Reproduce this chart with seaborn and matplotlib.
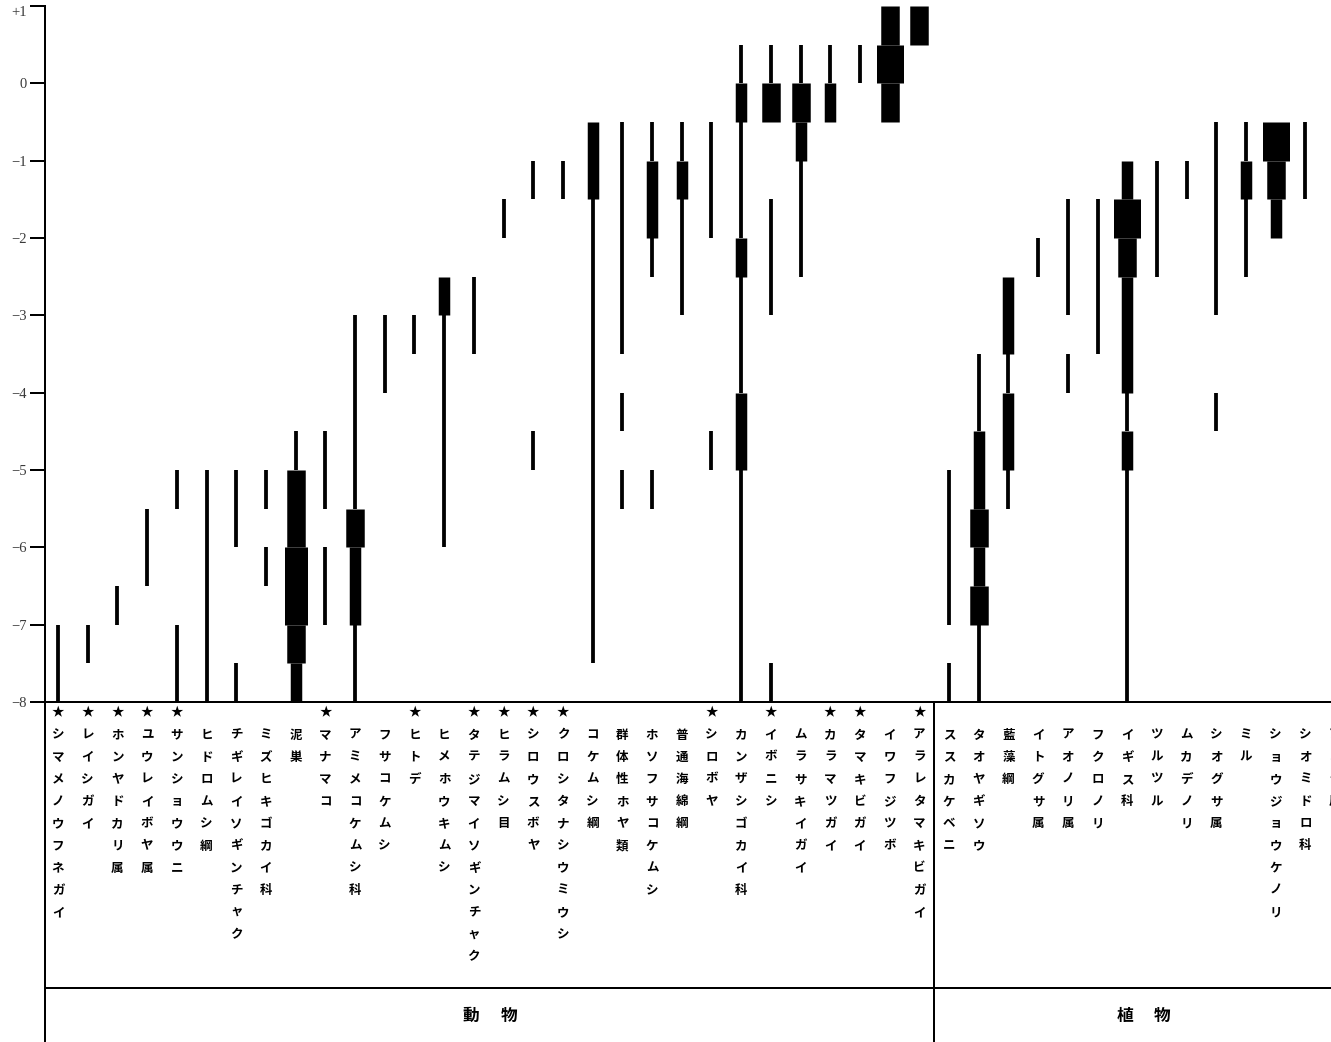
import matplotlib
matplotlib.use("Agg")
import matplotlib.pyplot as plt
import matplotlib.transforms as mtransforms
from matplotlib.lines import Line2D
import pandas as pd
import seaborn as sns
import seaborn.objects as so

# ---------------------------------------------------------------- data
# Each zone entry: (upper level, lower level, abundance class 1-5)
animal_names = [
    "シマメノウフネガイ", "レイシガイ", "ホンヤドカリ属", "ユウレイボヤ属", "サンショウウニ",
    "ヒドロムシ綱", "チギレイソギンチャク", "ミズヒキゴカイ科", "泥巣", "マナマコ",
    "アミメコケムシ科", "フサコケムシ", "ヒトデ", "ヒメホウキムシ", "タテジマイソギンチャク",
    "ヒラムシ目", "シロウスボヤ", "クロシタナシウミウシ", "コケムシ綱", "群体性ホヤ類",
    "ホソフサコケムシ", "普通海綿綱", "シロボヤ", "カンザシゴカイ科", "イボニシ",
    "ムラサキイガイ", "カラマツガイ", "タマキビガイ", "イワフジツボ", "アラレタマキビガイ",
]
animal_starred = [1, 1, 1, 1, 1, 0, 0, 0, 0, 1,
                  0, 0, 1, 0, 1, 1, 1, 1, 0, 0,
                  0, 0, 1, 0, 1, 0, 1, 1, 0, 1]
animal_zones = [
    [(-7, -8, 1)],
    [(-7, -7.5, 1)],
    [(-6.5, -7, 1)],
    [(-5.5, -6.5, 1)],
    [(-5, -5.5, 1), (-7, -8, 1)],
    [(-5, -8, 1)],
    [(-5, -6, 1), (-7.5, -8, 1)],
    [(-5, -5.5, 1), (-6, -6.5, 1)],
    [(-4.5, -5, 1), (-5, -6, 3), (-6, -7, 4), (-7, -7.5, 3), (-7.5, -8, 2)],
    [(-4.5, -5.5, 1), (-6, -7, 1)],
    [(-3, -5.5, 1), (-5.5, -6, 3), (-6, -7, 2), (-7, -8, 1)],
    [(-3, -4, 1)],
    [(-3, -3.5, 1)],
    [(-2.5, -3, 2), (-3, -6, 1)],
    [(-2.5, -3.5, 1)],
    [(-1.5, -2, 1)],
    [(-1, -1.5, 1), (-4.5, -5, 1)],
    [(-1, -1.5, 1)],
    [(-0.5, -1.5, 2), (-1.5, -7.5, 1)],
    [(-0.5, -3.5, 1), (-4, -4.5, 1), (-5, -5.5, 1)],
    [(-0.5, -1, 1), (-1, -2, 2), (-2, -2.5, 1), (-5, -5.5, 1)],
    [(-0.5, -1, 1), (-1, -1.5, 2), (-1.5, -3, 1)],
    [(-0.5, -2, 1), (-4.5, -5, 1)],
    [(0.5, 0, 1), (0, -0.5, 2), (-0.5, -2, 1), (-2, -2.5, 2), (-2.5, -4, 1),
     (-4, -5, 2), (-5, -8, 1)],
    [(0.5, 0, 1), (0, -0.5, 3), (-1.5, -3, 1), (-7.5, -8, 1)],
    [(0.5, 0, 1), (0, -0.5, 3), (-0.5, -1, 2), (-1, -2.5, 1)],
    [(0.5, 0, 1), (0, -0.5, 2)],
    [(0.5, 0, 1)],
    [(1, 0.5, 3), (0.5, 0, 5), (0, -0.5, 3)],
    [(1, 0.5, 3)],
]

plant_names = [
    "ススカケベニ", "タオヤギソウ", "藍藻綱", "イトグサ属", "アオノリ属", "フクロノリ",
    "イギス科", "ツルツル", "ムカデノリ", "シオグサ属", "ミル", "ショウジョウケノリ",
    "シオミドロ科", "アオサ属",
]
plant_starred = [0] * len(plant_names)
plant_zones = [
    [(-5, -7, 1), (-7.5, -8, 1)],
    [(-3.5, -4.5, 1), (-4.5, -5.5, 2), (-5.5, -6, 3), (-6, -6.5, 2), (-6.5, -7, 3),
     (-7, -8, 1)],
    [(-2.5, -3.5, 2), (-3.5, -4, 1), (-4, -5, 2), (-5, -5.5, 1)],
    [(-2, -2.5, 1)],
    [(-1.5, -3, 1), (-3.5, -4, 1)],
    [(-1.5, -3.5, 1)],
    [(-1, -1.5, 2), (-1.5, -2, 5), (-2, -2.5, 3), (-2.5, -4, 2), (-4, -4.5, 1),
     (-4.5, -5, 2), (-5, -8, 1)],
    [(-1, -2.5, 1)],
    [(-1, -1.5, 1)],
    [(-0.5, -3, 1), (-4, -4.5, 1)],
    [(-0.5, -1, 1), (-1, -1.5, 2), (-1.5, -2.5, 1)],
    [(-0.5, -1, 5), (-1, -1.5, 3), (-1.5, -2, 2)],
    [(-0.5, -1.5, 1)],
    [],
]

group_titles = ["動物", "植物"]
y_ticks = [-8, -7, -6, -5, -4, -3, -2, -1, 0, 1]
y_tick_labels = ["\u22128", "\u22127", "\u22126", "\u22125", "\u22124",
                 "\u22123", "\u22122", "\u22121", "0", "+1"]

# ---------------------------------------------------------------- layout
W, H, DPI = 1331, 1042, 100
COL0, COL_STEP = 58.0, 29.7          # pixel x of first column, column pitch
AX_LEFT, AX_TOP, AX_BOTTOM = 45, 6, 702
XMIN = (AX_LEFT - COL0) / COL_STEP
XMAX = 43.6
AX_RIGHT = COL0 + COL_STEP * XMAX
SEPARATOR_X = len(animal_names) - 0.5
STAR_Y, CHAR_Y0, CHAR_STEP = 713, 735, 22.2
RULE_Y, TITLE_Y = 988, 1016
LEVEL_WIDTH_PX = {1: 3.8, 2: 11.5, 3: 18.5, 4: 23.0, 5: 27.0}
LINE_PT = 2 * 72 / DPI

sns.set_theme(style="white")
plt.rcParams["font.family"] = ["Noto Sans CJK JP", "DejaVu Sans"]

names = animal_names + plant_names
starred = animal_starred + plant_starred
zones = animal_zones + plant_zones

rows = []
for i, col_zones in enumerate(zones):
    for j, (top, bottom, level) in enumerate(col_zones):
        rows.append({
            "col": i, "ymin": bottom, "ymax": top,
            "lw": LEVEL_WIDTH_PX[level] * 72 / DPI, "seg": f"{i}-{j}",
        })
df = pd.DataFrame(rows)

fig = plt.figure(figsize=(W / DPI, H / DPI), dpi=DPI)
fig.patch.set_facecolor("white")
ax = fig.add_axes([AX_LEFT / W, 1 - AX_BOTTOM / H,
                   (AX_RIGHT - AX_LEFT) / W, (AX_BOTTOM - AX_TOP) / H])

(
    so.Plot(df, x="col", ymin="ymin", ymax="ymax", linewidth="lw", group="seg")
    .add(so.Range(color="black", artist_kws={"capstyle": "butt"}), orient="x")
    .scale(linewidth=None)
    .on(ax)
    .plot()
)

# ---------------------------------------------------------------- axes styling
ax.set_facecolor("white")
ax.grid(False)
ax.set_xlabel("")
ax.set_ylabel("")
ax.set_xlim(XMIN, XMAX)
ax.set_ylim(-8, 1)
ax.set_xticks([])
ax.set_yticks(y_ticks, labels=y_tick_labels)
for side in ("top", "right"):
    ax.spines[side].set_visible(False)
for side in ("left", "bottom"):
    ax.spines[side].set_visible(True)
    ax.spines[side].set_color("black")
    ax.spines[side].set_linewidth(LINE_PT)
ax.tick_params(axis="y", direction="out", length=15 * 72 / DPI, width=LINE_PT,
               color="black", pad=2.2, left=True, labelsize=10.5,
               labelcolor="#3a3a3a")
for lbl in ax.get_yticklabels():
    lbl.set_fontfamily(["Liberation Serif", "DejaVu Serif"])
ax.get_yticklabels()[-1].set_verticalalignment("top")

# ---------------------------------------------------------------- name table
blend = mtransforms.blended_transform_factory(ax.transData, fig.transFigure)


def fy(py):
    return 1 - py / H


for i, (name, star) in enumerate(zip(names, starred)):
    if star:
        ax.text(i, fy(STAR_Y), "\u2605", transform=blend, ha="center", va="center",
                fontsize=9, color="black", clip_on=False)
    for k, ch in enumerate(name):
        ax.text(i, fy(CHAR_Y0 + k * CHAR_STEP), ch, transform=blend,
                ha="center", va="center", fontsize=9, fontweight="bold",
                color="black", clip_on=False)

line_kw = dict(color="black", linewidth=LINE_PT, transform=blend, clip_on=False)
fig.add_artist(Line2D([XMIN, XMIN], [fy(AX_BOTTOM), fy(H + 5)], **line_kw))
fig.add_artist(Line2D([SEPARATOR_X, SEPARATOR_X], [fy(AX_BOTTOM), fy(H + 5)], **line_kw))
fig.add_artist(Line2D([XMIN, XMAX], [fy(RULE_Y), fy(RULE_Y)], **line_kw))

spans = [(XMIN, SEPARATOR_X), (SEPARATOR_X, XMAX)]
half_gap = 19 / COL_STEP
for title, (lo, hi) in zip(group_titles, spans):
    mid = (lo + hi) / 2
    for ch, dx in zip(title, (-half_gap, half_gap)):
        ax.text(mid + dx, fy(TITLE_Y), ch, transform=blend, ha="center", va="center",
                fontsize=12, fontweight="bold", color="black", clip_on=False)

fig.savefig("out.png", dpi=DPI)
